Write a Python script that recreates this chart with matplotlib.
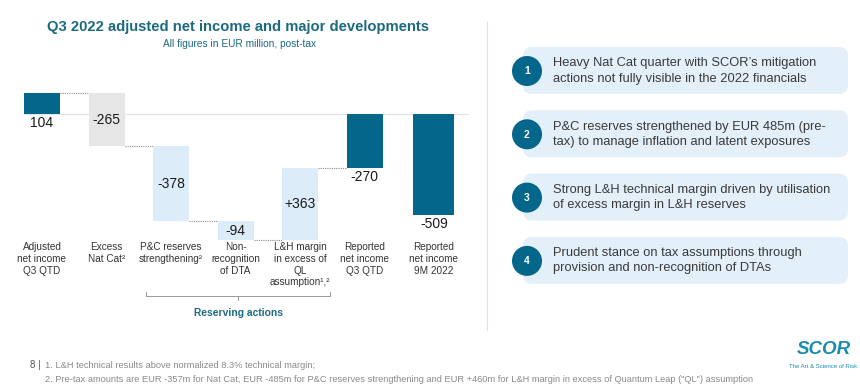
import numpy as np
import matplotlib
matplotlib.use("Agg")
import matplotlib.pyplot as plt
from matplotlib import rc
from matplotlib.patches import Circle, FancyBboxPatch
from matplotlib.transforms import blended_transform_factory

rc('mathtext', default='regular')
plt.rcParams['font.family'] = ['Liberation Sans', 'DejaVu Sans']

# data
categories = ["Adjusted\nnet income\nQ3 QTD", "Excess\nNat Cat\u00b2",
              "P&C reserves\nstrengthening\u00b2", "Non-\nrecognition\nof DTA",
              "L&H margin\nin excess of\nQL\nassumption\u00b9,\u00b2",
              "Reported\nnet income\nQ3 QTD", "Reported\nnet income\n9M 2022"]
values = [104, -265, -378, -94, 363, -270, -509]
kinds = ["total", "cat", "res", "res", "res", "total", "total"]
value_labels = ["104", "-265", "-378", "-94", "+363", "-270", "-509"]

points = ["Heavy Nat Cat quarter with SCOR\u2019s mitigation\nactions not fully visible in the 2022 financials",
          "P&C reserves strengthened by EUR 485m (pre-\ntax) to manage inflation and latent exposures",
          "Strong L&H technical margin driven by utilisation\nof excess margin in L&H reserves",
          "Prudent stance on tax assumptions through\nprovision and non-recognition of DTAs"]

footnotes = ["1. L&H technical results above normalized 8.3% technical margin;",
             "2. Pre-tax amounts are EUR -357m for Nat Cat, EUR -485m for P&C reserves strengthening "
             "and EUR +460m for L&H margin in excess of Quantum Leap (\"QL\") assumption"]

teal = "#02678a"
title_col = "#1b6a80"
colors = {"total": teal, "cat": "#e6e6e6", "res": "#dcecf8"}

W, H = 860, 386
fig = plt.figure(figsize=(W / 100, H / 100), dpi=100)

# pixel overlay for decorations
deco = fig.add_axes([0, 0, 1, 1])
deco.set_xlim(0, W)
deco.set_ylim(H, 0)
deco.axis("off")

# waterfall axes: y=0 at pixel 114, 0.199 px per EUR m
scale = 0.199
top_px, bot_px = 80, 250
ax = fig.add_axes([0, (H - bot_px) / H, 481 / W, (bot_px - top_px) / H])
ax.set_xlim(-0.65, 6.8)
ax.set_ylim((114 - bot_px) / scale, (114 - top_px) / scale)
ax.axis("off")

xpos = np.array([0, 1, 2, 3, 4, 5, 6.07])
widths = np.array([0.557] * 6 + [0.635])

bottoms = []
running = 0
for v, k in zip(values, kinds):
    if k == "total":
        bottoms.append(0)
        running = v
    else:
        bottoms.append(running)
        running += v

ax.axhline(0, xmin=(-0.28 + 0.65) / 7.45, xmax=(6.6 + 0.65) / 7.45, color="#e3e3e3", lw=0.8, zorder=0)
ax.bar(xpos, values, bottom=bottoms, width=widths,
       color=[colors[k] for k in kinds], zorder=2)

# connectors
for i in range(len(values) - 1):
    if kinds[i + 1] == "total" and kinds[i] == "total":
        continue
    level = bottoms[i] + values[i]
    ax.plot([xpos[i] + widths[i] / 2, xpos[i + 1] - widths[i + 1] / 2], [level, level],
            ls=(0, (1, 1)), color="#8c8c8c", lw=0.8, zorder=1)

# value labels
for i, (v, k) in enumerate(zip(values, kinds)):
    if k == "total":
        y = min(0, v)
        ax.annotate(value_labels[i], (xpos[i], y), xytext=(0, -1.5), textcoords="offset points",
                    ha="center", va="top", fontsize=10, color="#1a1a1a")
    else:
        ax.text(xpos[i], bottoms[i] + v / 2, value_labels[i], ha="center", va="center",
                fontsize=10, color="#1a1a1a")

# category labels
trans = blended_transform_factory(ax.transData, deco.transData)
for i, c in enumerate(categories):
    ax.text(xpos[i], 242, c, transform=trans, ha="center", va="top", fontsize=7.2,
            color="#333333", linespacing=1.22)

# brace for reserving actions
deco.plot([146, 146, 330, 330], [292, 296, 296, 292], color="#9a9a9a", lw=0.7)
deco.plot([238, 238], [296, 300], color="#9a9a9a", lw=0.7)
deco.text(238, 313, "Reserving actions", ha="center", va="center", fontsize=7.4,
          fontweight="bold", color=title_col)

# title
deco.text(238, 27, "Q3 2022 adjusted net income and major developments", ha="center", va="center",
          fontsize=10.6, fontweight="bold", color=title_col)
deco.text(240, 44, "All figures in EUR million, post-tax", ha="center", va="center",
          fontsize=7.3, color=title_col)

# separator
deco.plot([487, 487], [22, 330], color="#e0e0e0", lw=0.8)

# right side points
for k, txt in enumerate(points):
    y0 = 47 + 63.3 * k
    deco.add_patch(FancyBboxPatch((523, y0), 325, 47, boxstyle="round,pad=0,rounding_size=9",
                                  fc="#e3eff9", ec="none"))
    deco.add_patch(Circle((527, y0 + 24), 15, fc=teal, ec="none", zorder=3))
    deco.text(527, y0 + 24.5, str(k + 1), ha="center", va="center", fontsize=7.5,
              fontweight="bold", color="white", zorder=4)
    deco.text(553, y0 + 24, txt, ha="left", va="center", fontsize=9.3, color="#3a3a3a",
              linespacing=1.34)

# footer
deco.text(30, 365, "8 |", ha="left", va="center", fontsize=7, color="#555555")
for j, fn in enumerate(footnotes):
    deco.text(45, 366 + 13 * j, fn, ha="left", va="center", fontsize=6.7, color="#8a8a8a",
              family=["Liberation Sans Narrow", "Liberation Sans"])

deco.text(824, 350, "SCOR", ha="center", va="center", fontsize=13.5, fontweight="heavy",
          color="#1a8bb0", fontstyle="italic")
deco.text(823, 366, "The Art & Science of Risk", ha="center", va="center", fontsize=4.3,
          color="#1a8bb0", family=["Liberation Sans Narrow", "Liberation Sans"])

fig.savefig("out.png", dpi=100)
